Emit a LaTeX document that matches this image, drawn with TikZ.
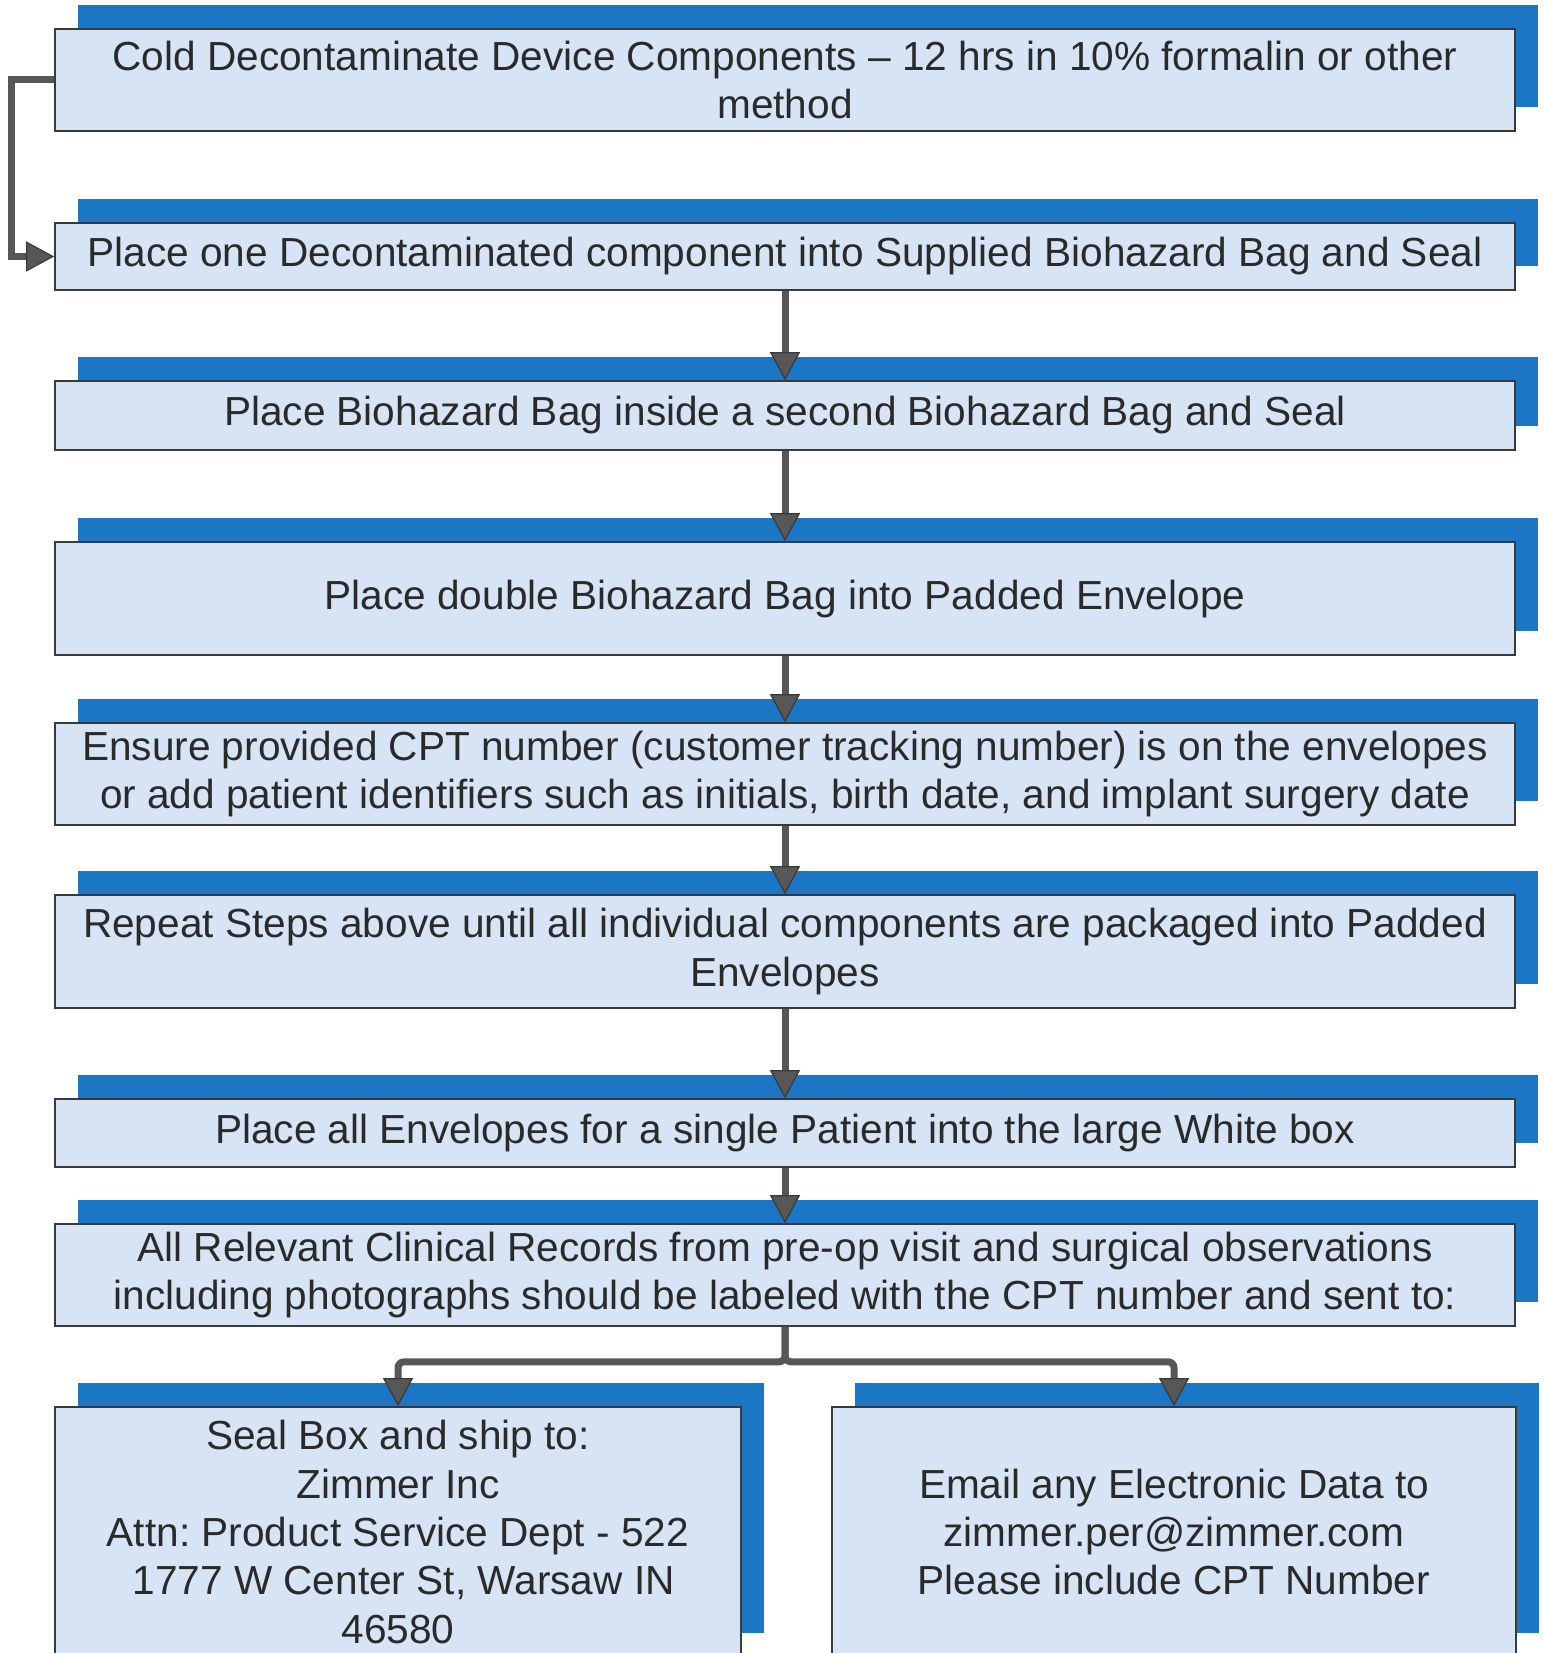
\documentclass[tikz,border=0pt]{standalone}
\usepackage{fontspec}
\setmainfont{Liberation Sans}
\usetikzlibrary{arrows.meta,shadows}
\frenchspacing

\definecolor{boxfill}{HTML}{D6E4F6}
\definecolor{shadowblue}{HTML}{1B76C6}
\definecolor{linegray}{HTML}{3A3A3A}
\definecolor{arrowgray}{HTML}{575757}
\definecolor{textgray}{HTML}{2A2A2A}

\begin{document}
\begin{tikzpicture}[x=0.5pt,y=-0.5pt,
  stepbox/.style={draw=linegray, line width=0.8pt, fill=boxfill, text=textgray,
    align=center, inner sep=0pt, minimum width=730pt,
    font=\fontsize{20.3}{24.2}\selectfont,
    drop shadow={shadow xshift=11.5pt, shadow yshift=12pt, fill=shadowblue, opacity=1}},
  flow/.style={draw=arrowgray, line width=3.5pt,
    -{Triangle[width=15pt,length=14pt,line width=0.6pt,fill=arrowgray,color=linegray]}}]
\useasboundingbox (0,0) rectangle (1543,1653);
\clip (0,0) rectangle (1543,1653);

% the steps

\node [stepbox, minimum height=51pt]   (cold)     at (785,80)
  {Cold Decontaminate Device Components – 12 hrs in 10\% formalin or other\\ method};
\node [stepbox, minimum height=33.5pt] (bagone)   at (785,256.5)
  {Place one Decontaminated component into Supplied Biohazard Bag and Seal};
\node [stepbox, minimum height=34.5pt] (bagtwo)   at (785,415.5)
  {Place Biohazard Bag inside a second Biohazard Bag and Seal};
\node [stepbox, minimum height=56.5pt] (envelope) at (785,598.5)
  {Place double Biohazard Bag into Padded Envelope};
\node [stepbox, minimum height=51pt]   (cpt)      at (785,774)
  {Ensure provided CPT number (customer tracking number) is on the envelopes\\
   or add patient identifiers such as initials, birth date, and implant surgery date};
\node [stepbox, minimum height=56.5pt] (repeat)   at (785,951.5)
  {Repeat Steps above until all individual components are packaged into Padded\\ Envelopes};
\node [stepbox, minimum height=34pt]   (whitebox) at (785,1133)
  {Place all Envelopes for a single Patient into the large White box};
\node [stepbox, minimum height=51pt]   (records)  at (785,1275)
  {All Relevant Clinical Records from pre-op visit and surgical observations\\
   including photographs should be labeled with the CPT number and sent to:};

% the two endings

\node [stepbox, minimum width=343pt, minimum height=125pt] (ship)  at (398,1532)
  {Seal Box and ship to:\\ Zimmer Inc\\ Attn: Product Service Dept - 522\\
   \ 1777 W Center St, Warsaw IN\\ 46580};
\node [stepbox, minimum width=342pt, minimum height=125pt] (email) at (1174,1532)
  {Email any Electronic Data to\\ zimmer.per@zimmer.com\\ Please include CPT Number};

% arrows

\draw [flow] (cold.west) -- ++(-43,0) |- (bagone.west);
\draw [flow] (bagone.south) -- (bagtwo.north);
\draw [flow] (bagtwo.south) -- (envelope.north);
\draw [flow] (envelope.south) -- (cpt.north);
\draw [flow] (cpt.south) -- (repeat.north);
\draw [flow] (repeat.south) -- (whitebox.north);
\draw [flow] (whitebox.south) -- (records.north);
\draw [flow, rounded corners=3pt] (records.south) -- ++(0,35) -| (ship.north);
\draw [flow, rounded corners=3pt] (records.south) -- ++(0,35) -| (email.north);

\end{tikzpicture}
\end{document}
